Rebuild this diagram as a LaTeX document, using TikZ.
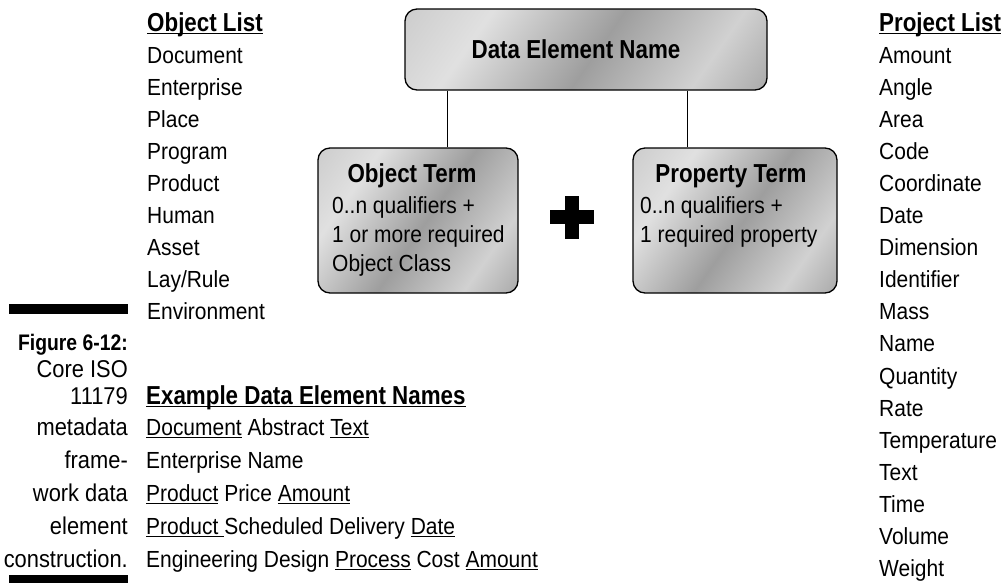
\documentclass[tikz,border=0pt]{standalone}
\usepackage{fontspec}
\setmainfont[FakeStretch=0.9]{Liberation Sans}
\newfontfamily\cbold[FakeStretch=0.86,UprightFont=* Bold]{Liberation Sans}
\newcommand\myul[1]{\setbox0\hbox{#1}\rlap{\rule[-3.2pt]{\wd0}{1.6pt}}\box0\relax}
\pgfdeclarehorizontalshading{metal}{100bp}{color(0bp)=(black!28); color(30bp)=(black!12); color(52bp)=(black!38); color(72bp)=(black!18); color(100bp)=(black!52)}
\begin{document}
\begin{tikzpicture}[x=1pt,y=-1pt,
  txt/.style={inner sep=0pt, anchor=base west, font=\fontsize{23.3}{27}\selectfont},
  ttl/.style={inner sep=0pt, anchor=base west, font=\cbold\fontsize{26}{30}\selectfont},
  captxt/.style={inner sep=0pt, anchor=base east, font=\fontsize{24.3}{28}\selectfont},
  captl/.style={inner sep=0pt, anchor=base east, font=\cbold\fontsize{22.5}{26}\selectfont},
  boxttl/.style={inner sep=0pt, anchor=base, font=\cbold\fontsize{26}{30}\selectfont},
  metalbox/.style={draw=black, line width=1.3pt, rounded corners=12pt, shading=metal, shading angle=-35, inner sep=0pt},
  conn/.style={line width=1pt}]
\useasboundingbox (0,0) rectangle (1007,582);

% boxes
\node[metalbox, minimum width=362pt, minimum height=81pt] (db) at (586,49.5) {};
\node[metalbox, minimum width=200pt, minimum height=145pt] (ob) at (418,220.5) {};
\node[metalbox, minimum width=204pt, minimum height=145pt] (pb) at (735,220.5) {};

\node[boxttl] (dbt) at (576,58) {Data Element Name};
\node[boxttl] (obt) at (412,182) {Object Term};
\node[txt] (ob1) at (332,213) {0..n qualifiers +};
\node[txt] (ob2) at (332,242) {1 or more required};
\node[txt] (ob3) at (332,271) {Object Class};
\node[boxttl] (pbt) at (731,182) {Property Term};
\node[txt] (pb1) at (640,213) {0..n qualifiers +};
\node[txt] (pb2) at (640,242) {1 required property};

% connectors
\draw[conn] ([xshift=29pt]ob.north) -- ([xshift=29pt]ob.north |- db.south);
\draw[conn] ([xshift=-48pt]pb.north) -- ([xshift=-48pt]pb.north |- db.south);

% plus
\fill (565,196) rectangle (579,239);
\fill (550,210) rectangle (594,224);

% object list
\node[ttl] (olt) at (147,31) {\myul{Object List}};
\foreach \t [count=\i from 0] in {Document,Enterprise,Place,Program,Product,Human,Asset,Lay/Rule,Environment}
  \node[txt] (ol\i) at (147,{63+32*\i}) {\t};

% project list
\node[ttl] (plt) at (879,31) {\myul{Project List}};
\foreach \t [count=\i from 0] in {Amount,Angle,Area,Code,Coordinate,Date,Dimension,Identifier,Mass,Name,Quantity,Rate,Temperature,Text,Time,Volume,Weight}
  \node[txt] (pl\i) at (879,{63+32.1*\i}) {\t};

% examples
\node[ttl] (ext) at (146,404) {\myul{Example Data Element Names}};
\node[txt] (ex1) at (146,435) {\myul{Document} Abstract \myul{Text}};
\node[txt] (ex2) at (146,468) {Enterprise Name};
\node[txt] (ex3) at (146,501) {\myul{Product} Price \myul{Amount}};
\node[txt] (ex4) at (146,534) {\myul{Product }Scheduled Delivery \myul{Date}};
\node[txt] (ex5) at (146,567) {Engineering Design \myul{Process} Cost \myul{Amount}};

% caption
\fill (9,304) rectangle (128,314);
\fill (9,575) rectangle (128,585);
\node[captl] (c0) at (128,350) {Figure 6-12:};
\node[captxt] (c1) at (128,377) {Core ISO};
\node[captxt] (c2) at (128,404) {11179};
\node[captxt] (c3) at (128,435) {metadata};
\node[captxt] (c4) at (128,468) {frame-};
\node[captxt] (c5) at (128,501) {work data};
\node[captxt] (c6) at (128,534) {element};
\node[captxt] (c7) at (128,567) {construction.};
\end{tikzpicture}
\end{document}
